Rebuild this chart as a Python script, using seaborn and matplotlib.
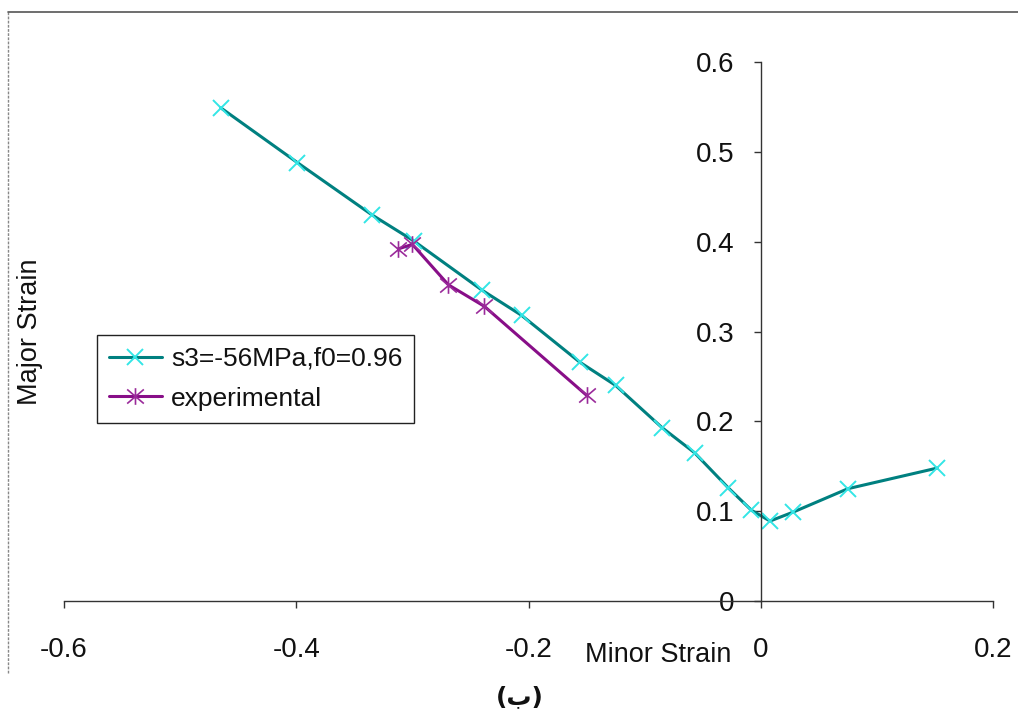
import matplotlib
matplotlib.use("Agg")
import matplotlib.pyplot as plt
import seaborn as sns
import pandas as pd
from matplotlib.path import Path
from matplotlib.lines import Line2D

# Data
sim_minor = [-0.465, -0.399, -0.335, -0.299, -0.240, -0.206, -0.156, -0.125,
             -0.085, -0.057, -0.028, -0.008, 0.008, 0.028, 0.075, 0.152]
sim_major = [0.549, 0.488, 0.430, 0.401, 0.346, 0.318, 0.266, 0.240,
             0.193, 0.165, 0.126, 0.101, 0.089, 0.099, 0.125, 0.148]
exp_minor = [-0.312, -0.300, -0.269, -0.238, -0.150]
exp_major = [0.392, 0.397, 0.352, 0.328, 0.229]

sim_label = "s3=-56MPa,f0=0.96"
exp_label = "experimental"
x_ticks = [-0.6, -0.4, -0.2, 0, 0.2]
x_ticklabels = ["-0.6", "-0.4", "-0.2", "0", "0.2"]
y_ticks = [0, 0.1, 0.2, 0.3, 0.4, 0.5, 0.6]
y_ticklabels = ["0", "0.1", "0.2", "0.3", "0.4", "0.5", "0.6"]

sim = pd.DataFrame({"minor": sim_minor, "major": sim_major})
exp = pd.DataFrame({"minor": exp_minor, "major": exp_major})

sns.set_style("white")
plt.rcParams["font.family"] = ["Liberation Sans", "DejaVu Sans"]

# Excel-like star marker: an X with a vertical bar
star = Path([(-1, -0.85), (1, 0.85), (-1, 0.85), (1, -0.85), (0, -1), (0, 1)],
            [Path.MOVETO, Path.LINETO, Path.MOVETO, Path.LINETO, Path.MOVETO, Path.LINETO])

fig = plt.figure(figsize=(10.18, 7.13), dpi=100)
ax = fig.add_axes([64 / 1018, 112 / 713, 929 / 1018, 539 / 713])

sns.lineplot(data=sim, x="minor", y="major", sort=False, estimator=None, ax=ax,
             color="#008080", linewidth=2.2, marker="x", markersize=11,
             markeredgecolor="#33E6E6", markeredgewidth=1.4, label=sim_label)
sns.lineplot(data=exp, x="minor", y="major", sort=False, estimator=None, ax=ax,
             color="#880E88", linewidth=2.2, marker=star, markersize=12,
             markeredgecolor="#9A2A9A", markeredgewidth=1.2, label=exp_label)

ax.set_xlim(-0.6, 0.2)
ax.set_ylim(0, 0.6)

# axes cross at the origin
for side in ["top", "right"]:
    ax.spines[side].set_visible(False)
ax.spines["left"].set_position(("data", 0))
ax.spines["bottom"].set_position(("data", 0))
for side in ["left", "bottom"]:
    ax.spines[side].set_color("#333333")
    ax.spines[side].set_linewidth(1.0)

ax.set_xticks(x_ticks)
ax.set_xticklabels(x_ticklabels)
ax.set_yticks(y_ticks)
ax.set_yticklabels(y_ticklabels)
ax.tick_params(axis="y", direction="out", length=5, width=1, color="#333333",
               pad=14, labelsize=20, labelcolor="#111111", left=True)
ax.tick_params(axis="x", direction="out", length=5, width=1, color="#333333",
               pad=21, labelsize=20, labelcolor="#111111", bottom=True)

ax.set_xlabel("")
ax.set_ylabel("")
fig.text(658 / 1018, 1 - 655 / 713, "Minor Strain", fontsize=19.5, color="#111111",
         ha="center", va="center")
fig.text(30 / 1018, 1 - 332 / 713, "Major Strain", fontsize=19.5, color="#111111",
         ha="center", va="center", rotation=90)

leg = ax.legend(loc="upper left", bbox_to_anchor=(33 / 929, 266 / 539), borderaxespad=0,
                fontsize=19, frameon=True, fancybox=False, framealpha=1,
                edgecolor="#222222", handlelength=2.0, handletextpad=0.35,
                labelspacing=0.6, borderpad=0.45)
leg.get_frame().set_linewidth(1.0)
for t in leg.get_texts():
    t.set_color("#111111")

# chart-area border (left and top edges visible in the reference)
fig.add_artist(Line2D([8 / 1018, 8 / 1018], [1 - 673 / 713, 1 - 12 / 713],
                      color="#888888", linewidth=1.0, linestyle=(0, (2, 1))))
fig.add_artist(Line2D([8 / 1018, 1.0], [1 - 12 / 713, 1 - 12 / 713],
                      color="#555555", linewidth=1.2))

# caption
fig.text(520 / 1018, 1 - 697 / 713, "(ب)", fontsize=18, fontweight="bold",
         family=["DejaVu Sans"], ha="center", va="center", color="#111111")

fig.savefig("out.png", dpi=100, facecolor="white")
